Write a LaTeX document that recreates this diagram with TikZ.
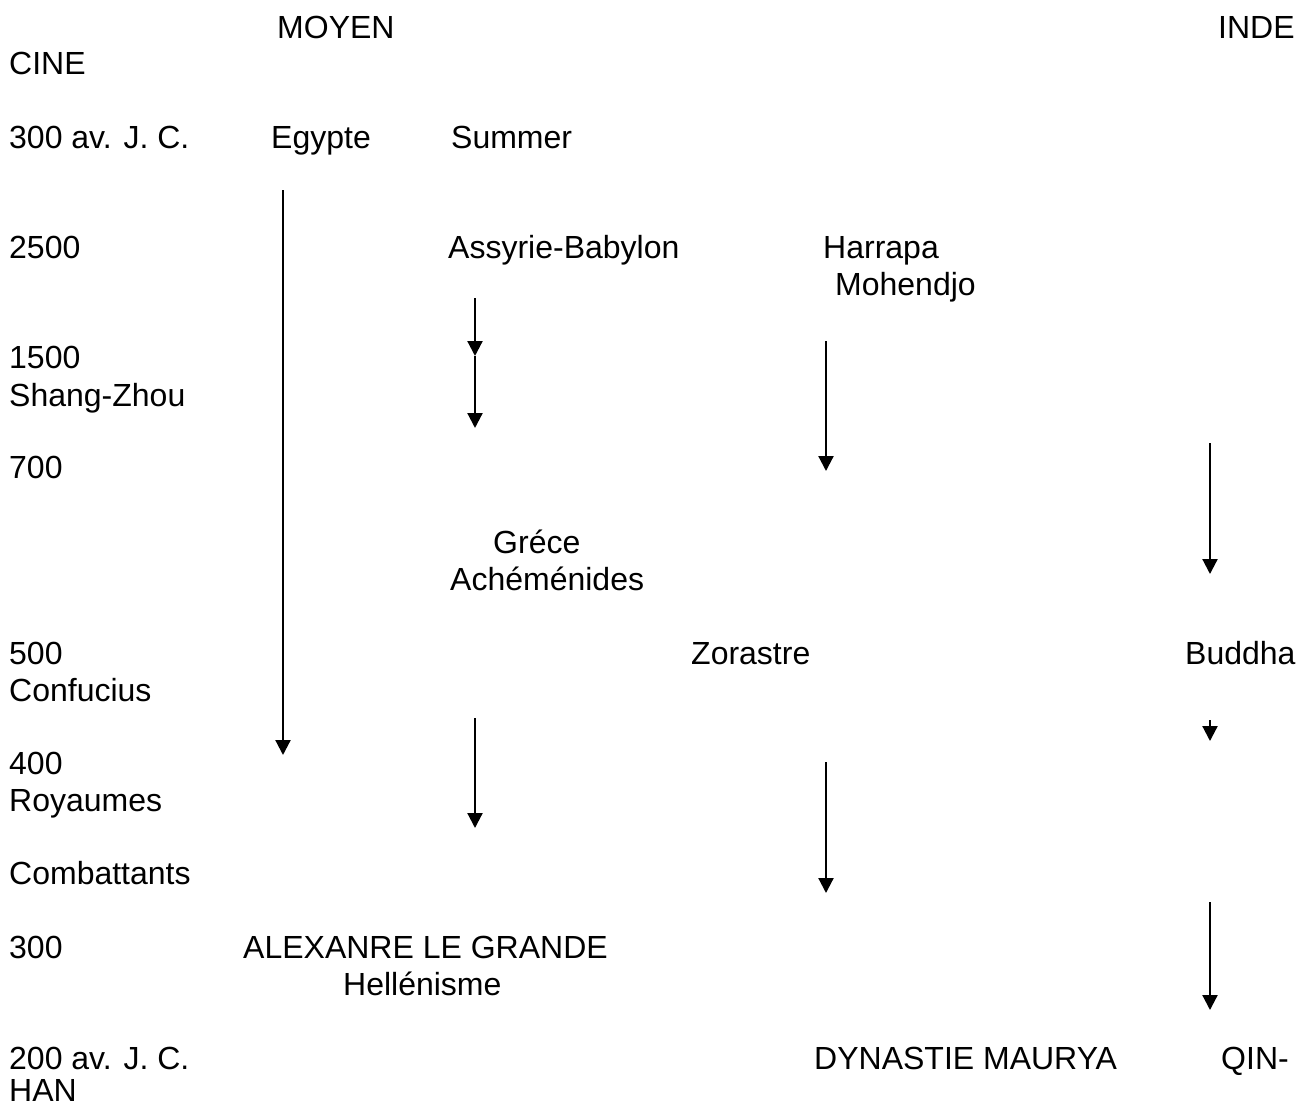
\documentclass[tikz,border=0pt]{standalone}
\usepackage{fontspec}
\setmainfont{Liberation Sans}
\usetikzlibrary{arrows.meta}
\begin{document}
\begin{tikzpicture}[x=1pt,y=-1pt,
  lbl/.style={inner sep=0pt, anchor=base west, font=\fontsize{32}{37}\selectfont},
  arr/.style={line width=2.2pt, -{Triangle[width=15pt,length=15pt]}}]
\useasboundingbox (0,0) rectangle (1307,1106);
% header
\node[lbl] (moyen) at (277,38) {MOYEN};
\node[lbl] (inde) at (1218,38) {INDE};
\node[lbl] (cine) at (9,74) {CINE};
% left column
\node[lbl] (d300av) at (9,148) {300 av. J. C.};
\node[lbl] (d2500) at (9,258) {2500};
\node[lbl] (d1500) at (9,368) {1500};
\node[lbl] (shang) at (9,406) {Shang-Zhou};
\node[lbl] (d700) at (9,478) {700};
\node[lbl] (d500) at (9,664) {500};
\node[lbl] (conf) at (9,701) {Confucius};
\node[lbl] (d400) at (9,774) {400};
\node[lbl] (roy) at (9,811) {Royaumes};
\node[lbl] (comb) at (9,884) {Combattants};
\node[lbl] (d300) at (9,958) {300};
\node[lbl] (d200) at (9,1069) {200 av. J. C.};
\node[lbl] (han) at (9,1101) {HAN};
% other texts
\node[lbl] (egypte) at (271,148) {Egypte};
\node[lbl] (summer) at (451,148) {Summer};
\node[lbl] (assyrie) at (448,258) {Assyrie-Babylon};
\node[lbl] (harrapa) at (823,258) {Harrapa};
\node[lbl] (mohendjo) at (835,295) {Mohendjo};
\node[lbl] (grece) at (493,553) {Gréce};
\node[lbl] (achem) at (450,590) {Achéménides};
\node[lbl] (zoras) at (691,664) {Zorastre};
\node[lbl] (buddha) at (1185,664) {Buddha};
\node[lbl] (alex) at (243,958) {ALEXANRE LE GRANDE};
\node[lbl] (hellen) at (343,995) {Hellénisme};
\node[lbl] (maurya) at (814,1069) {DYNASTIE MAURYA};
\node[lbl] (qin) at (1221,1069) {QIN-};
% arrows
\coordinate (eS) at (283,190); \coordinate (eE) at (283,755);
\coordinate (aS) at (475,298); \coordinate (aM) at (475,356); \coordinate (aE) at (475,428);
\coordinate (hS) at (826,341); \coordinate (hE) at (826,471);
\coordinate (bS) at (1210,443); \coordinate (bE) at (1210,574);
\coordinate (gS) at (475,718); \coordinate (gE) at (475,828);
\coordinate (uS) at (1210,720); \coordinate (uE) at (1210,741);
\coordinate (zS) at (826,762); \coordinate (zE) at (826,893);
\coordinate (qS) at (1210,902); \coordinate (qE) at (1210,1010);
\draw[arr] (eS) -- (eE);
\draw[arr] (aS) -- (aM);
\draw[arr] (aM) -- (aE);
\draw[arr] (hS) -- (hE);
\draw[arr] (bS) -- (bE);
\draw[arr] (gS) -- (gE);
\draw[arr] (uS) -- (uE);
\draw[arr] (zS) -- (zE);
\draw[arr] (qS) -- (qE);
\end{tikzpicture}
\end{document}
